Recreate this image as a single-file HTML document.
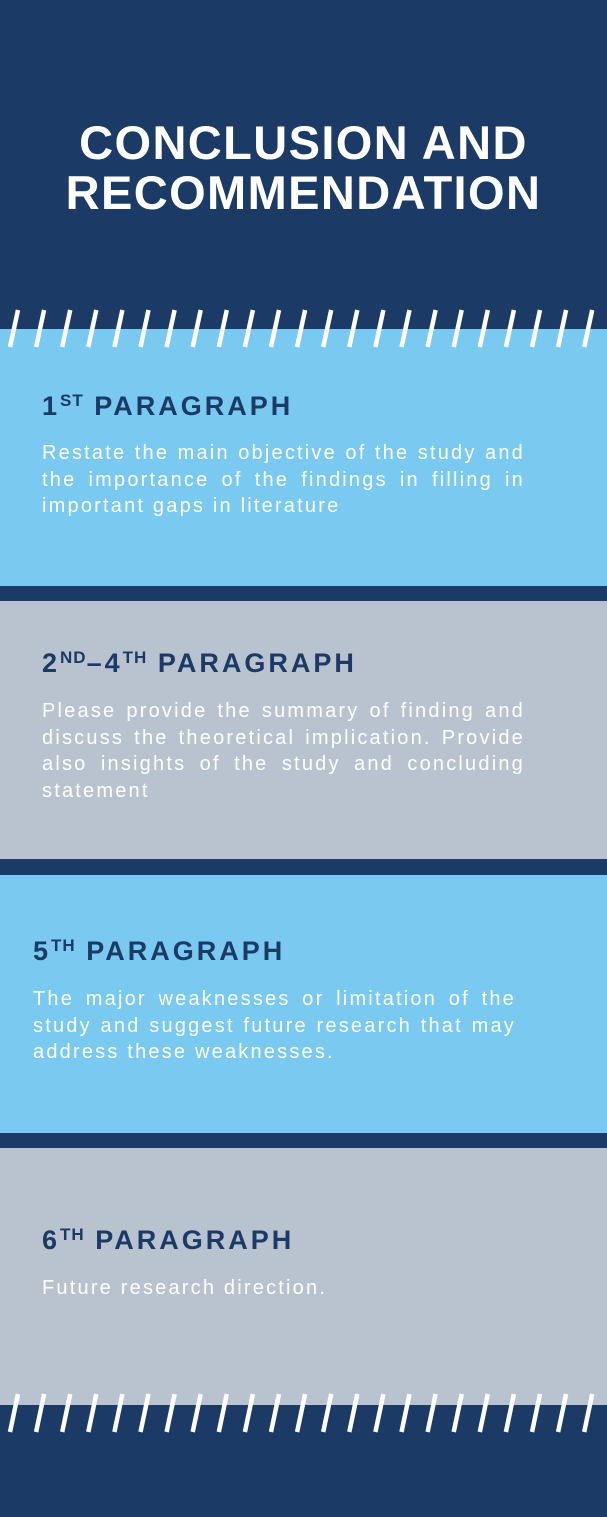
<!DOCTYPE html>
<html><head><meta charset="utf-8">
<style>
body{margin:0;width:607px;height:1517px;position:relative;background:#1c3a66;font-family:"Liberation Sans",sans-serif;overflow:hidden}
.abs{position:absolute}
.title{left:0;width:607px;top:118px;text-align:center;color:#fff;font-weight:bold;font-size:47px;line-height:50px;letter-spacing:1.4px}
.sec{left:0;width:607px}
.h{position:absolute;color:#1c3a66;font-weight:bold;font-size:27px;letter-spacing:3px;white-space:nowrap}
.h sup{font-size:17px;vertical-align:9px;letter-spacing:1px}
.p{position:absolute;color:#fff;font-size:20px;line-height:26.5px;letter-spacing:2.2px}
.p div{text-align:justify;text-align-last:justify;white-space:nowrap}
.p div.last{text-align-last:left}
</style></head><body>
<div class="abs title">CONCLUSION AND<br>RECOMMENDATION</div>

<div class="abs sec" style="top:329px;height:257px;background:#79c9f0">
 <div class="h" style="left:42px;top:62px">1<sup>ST</sup> PARAGRAPH</div>
 <div class="p" style="left:42px;width:483px;top:111px"><div>Restate the main objective of the study and</div><div>the importance of the findings in filling in</div><div class="last">important gaps in literature</div></div>
</div>
<div class="abs sec" style="top:601px;height:258px;background:#b9c3d0">
 <div class="h" style="left:42px;top:47px">2<sup>ND</sup>–4<sup>TH</sup> PARAGRAPH</div>
 <div class="p" style="left:42px;width:483px;top:97px"><div>Please provide the summary of finding and</div><div>discuss the theoretical implication. Provide</div><div>also insights of the study and concluding</div><div class="last">statement</div></div>
</div>
<div class="abs sec" style="top:875px;height:258px;background:#79c9f0">
 <div class="h" style="left:33px;top:61px">5<sup>TH</sup> PARAGRAPH</div>
 <div class="p" style="left:33px;width:483px;top:111px"><div>The major weaknesses or limitation of the</div><div>study and suggest future research that may</div><div class="last">address these weaknesses.</div></div>
</div>
<div class="abs sec" style="top:1148px;height:257px;background:#b9c3d0">
 <div class="h" style="left:42px;top:77px">6<sup>TH</sup> PARAGRAPH</div>
 <div class="p" style="left:42px;width:483px;top:127px"><div class="last">Future research direction.</div></div>
</div>

<svg class="abs" style="left:0;top:0" width="607" height="1517">
 <g id="s1" stroke="#fff" stroke-width="4.5"></g>
</svg>
<script>
var g=document.getElementById('s1');
function stripes(y1,y2){
 for(var i=0;i<25;i++){
  var x=10+i*26.1;
  var l=document.createElementNS('http://www.w3.org/2000/svg','line');
  l.setAttribute('x1',x);l.setAttribute('y1',y2);
  l.setAttribute('x2',x+8);l.setAttribute('y2',y1);
  
  
  g.appendChild(l);
 }
}
stripes(310,347);
stripes(1394,1432);
</script>
</body></html>
